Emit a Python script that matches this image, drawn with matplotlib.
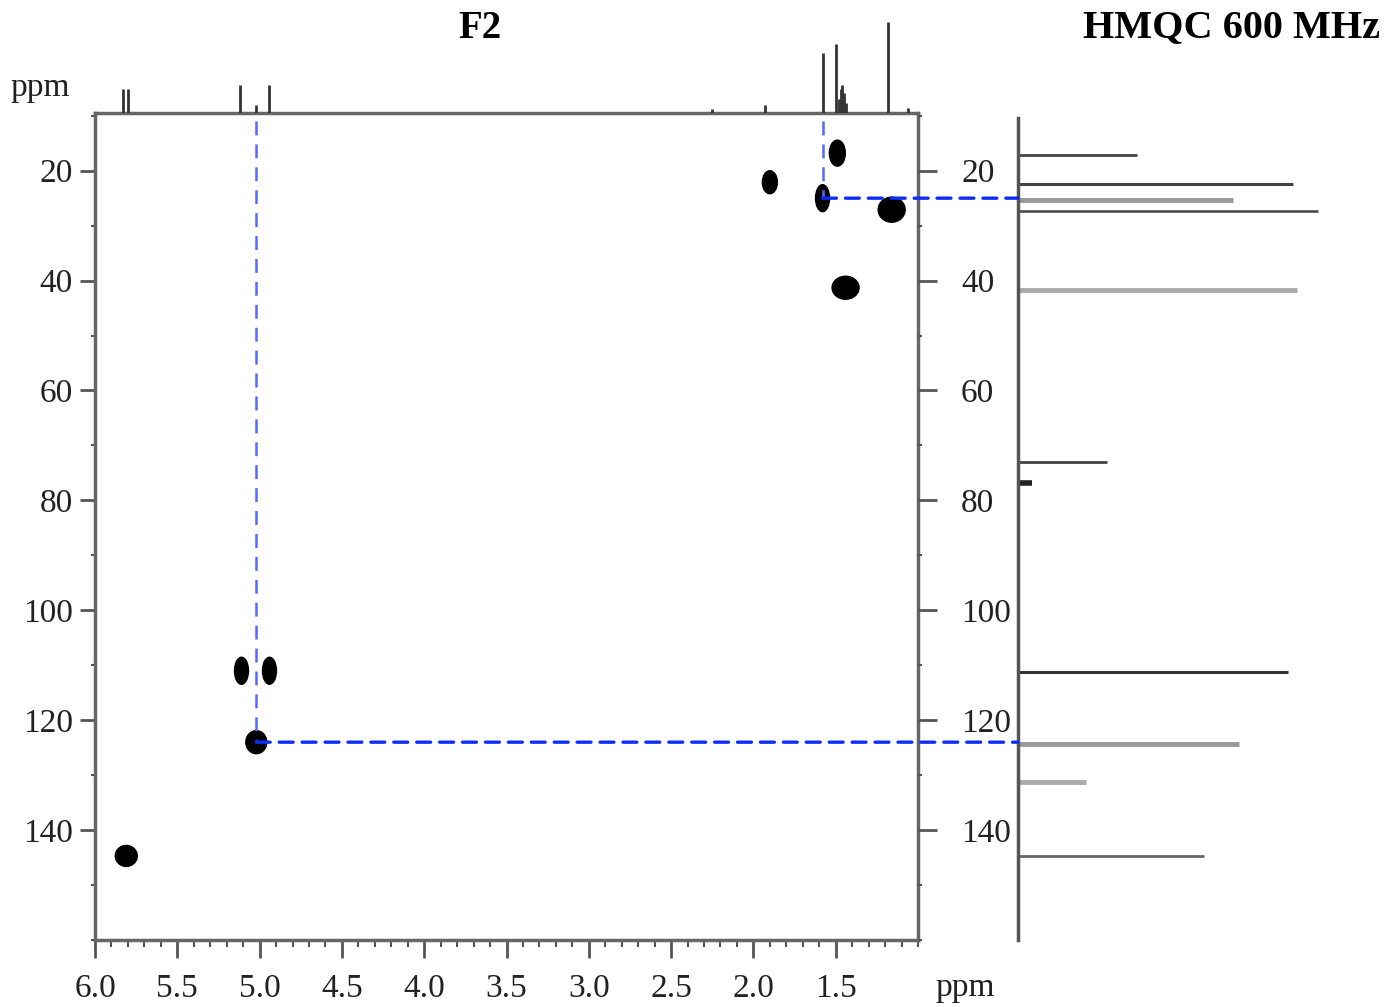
import matplotlib.pyplot as plt
from matplotlib.patches import Ellipse, ConnectionPatch

plt.rcParams['font.family'] = ['Liberation Serif', 'DejaVu Serif']
plt.rcParams['lines.scale_dashes'] = False

# HMQC cross peaks: 1H shift (ppm) and 13C shift (ppm)
peak_h = [5.81, 5.11, 4.94, 5.02, 1.49, 1.90, 1.58, 1.16, 1.44]
peak_c = [144.7, 111.0, 111.0, 124.0, 16.8, 22.1, 25.0, 27.1, 41.3]
# blob size in pixels (width, height)
blob_w = [22, 14, 14, 21, 16, 15, 14, 27, 27]
blob_h = [21, 27, 27, 23, 26, 23, 27, 25, 23]

# 1H projection on top (ppm, height)
h_ppm = [5.83, 5.80, 5.12, 5.02, 4.94, 2.25, 1.93, 1.58, 1.50,
         1.48, 1.47, 1.46, 1.45, 1.44, 1.18, 1.06]
h_int = [24, 24, 28, 8, 28, 4, 8, 60, 69, 14, 24, 28, 20, 10, 91, 5]

# 13C projection on the right (ppm, intensity)
c_ppm = [17.1, 22.4, 25.3, 27.3, 41.8, 73.0, 76.9, 111.3, 124.3, 131.3, 144.8]
c_int = [119, 275, 215, 300, 279, 89, 14, 270, 221, 68, 186]
c_col = ['#444', '#444', '#999', '#444', '#aaa', '#444', '#222', '#333', '#999', '#aaa', '#666']
c_lw = [2, 2.2, 3.5, 1.8, 3.5, 2, 4, 2.2, 3.5, 3.5, 2]

# peaks marked with the blue guide lines
guide_idx = [3, 6]

x_ticks = [6.0, 5.5, 5.0, 4.5, 4.0, 3.5, 3.0, 2.5, 2.0, 1.5]
y_ticks = [20, 40, 60, 80, 100, 120, 140]

W, H = 1388, 1007
fig = plt.figure(figsize=(W / 100, H / 100), dpi=100)


def box(x0, y0, x1, y1):
    return [x0 / W, 1 - y1 / H, (x1 - x0) / W, (y1 - y0) / H]


ax = fig.add_axes(box(95, 113, 918, 940))
ax_top = fig.add_axes(box(95, 20, 918, 113))
ax_c = fig.add_axes(box(1018, 113, 1388, 940))

xlim = (6.0, 1.0)
ylim = (160, 9.5)
ax.set_xlim(xlim)
ax.set_ylim(ylim)

px_x = 5.0 / 823
px_y = 150.5 / 827
for x, y, w, h in zip(peak_h, peak_c, blob_w, blob_h):
    ax.add_patch(Ellipse((x, y), w * px_x, h * px_y, color='black', zorder=3))

ax.set_xticks(x_ticks)
ax.set_xticklabels(['%.1f' % t for t in x_ticks])
ax.set_xticks([6.0 - 0.1 * i for i in range(51)], minor=True)
ax.set_yticks(y_ticks)
ax.set_yticks(list(range(10, 161, 10)), minor=True)
for s in ax.spines.values():
    s.set_color('#666')
    s.set_linewidth(2.5)
ax.tick_params(axis='x', which='major', direction='out', length=13, width=2,
               pad=11, labelsize=24, color='#555', labelcolor='#222')
ax.tick_params(axis='x', which='minor', direction='out', length=5, width=1.5, color='#555')
ax.tick_params(axis='y', which='major', direction='out', length=11, width=2,
               pad=5, labelsize=24, color='#555', labelcolor='#222')
ax.tick_params(axis='y', which='minor', direction='out', length=3, width=1.5, color='#555')

ax_r = ax.twinx()
ax_r.set_ylim(ylim)
ax_r.set_yticks(y_ticks)
ax_r.set_yticks(list(range(10, 161, 10)), minor=True)
for s in ax_r.spines.values():
    s.set_visible(False)
ax_r.tick_params(axis='y', which='major', direction='out', length=14, width=2,
                 pad=17, labelsize=24, color='#555', labelcolor='#222')
ax_r.tick_params(axis='y', which='minor', direction='out', length=3, width=1.5, color='#555')

# top 1H trace
ax_top.set_xlim(xlim)
ax_top.set_ylim(0, 93)
ax_top.axis('off')
ax_top.vlines(h_ppm, 0, h_int, colors='#333', linewidth=2)

# right 13C trace
ax_c.set_xlim(0, 370)
ax_c.set_ylim(ylim)
ax_c.hlines(c_ppm, 0, c_int, colors=c_col, linewidths=c_lw)
ax_c.set_xticks([])
ax_c.set_yticks([])
for k in ['top', 'right', 'bottom']:
    ax_c.spines[k].set_visible(False)
ax_c.spines['left'].set_color('#555')
ax_c.spines['left'].set_linewidth(2.5)
ax_c.spines['left'].set_bounds(160, 10.4)

# blue guide lines
for i in guide_idx:
    x, y = peak_h[i], peak_c[i]
    ax.vlines(x, ylim[1] + 1.5, y, colors='#5468ff', linewidth=1.8,
              linestyles=[(0, (10, 6.5))], zorder=4)
    con = ConnectionPatch(xyA=(x, y), coordsA=ax.transData, xyB=(0, y), coordsB=ax_c.transData,
                          color='#0a2cff', linewidth=2.4, linestyle=(0, (10, 6.5)), zorder=4)
    fig.add_artist(con)

fig.text(480 / W, 1 - 28 / H, 'F2', fontsize=28, weight='bold', ha='center', va='center')
fig.text(1083 / W, 1 - 28 / H, 'HMQC 600 MHz', fontsize=29, weight='bold', ha='left', va='center')
fig.text(70 / W, 1 - 88 / H, 'ppm', fontsize=24, ha='right', va='center', color='#222')
fig.text(935 / W, 1 - 988 / H, 'ppm', fontsize=24, ha='left', va='center', color='#222')

fig.savefig('out.png', dpi=100)
